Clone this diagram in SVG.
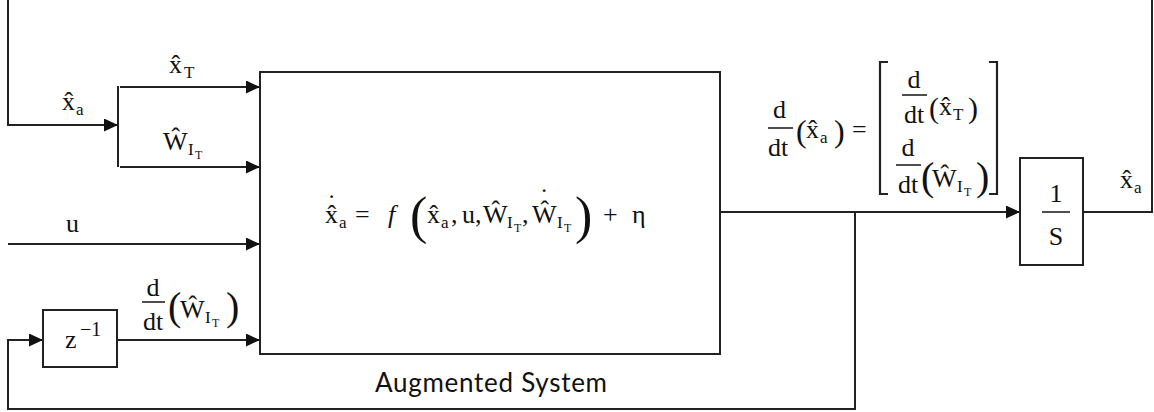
<svg xmlns="http://www.w3.org/2000/svg" width="1154" height="412" viewBox="0 0 1154 412">
<style>
.ln{fill:none;stroke:#222;stroke-width:2}
.box{fill:#fff;stroke:#222;stroke-width:2}
.m{font-family:"Liberation Serif","DejaVu Serif",serif;font-size:26px;fill:#111}
.s{font-size:17px}
.ss{font-size:12px}
.bar{stroke:#222;stroke-width:1.6}
.brk{fill:none;stroke:#222;stroke-width:2.2}
.lbl{font-family:Lato,"Open Sans",sans-serif;font-size:26px;fill:#111}
</style>
<defs>
<marker id="ah" markerUnits="userSpaceOnUse" markerWidth="15" markerHeight="13" refX="14" refY="6.5" orient="auto">
<path d="M0,0 L14,6.5 L0,13 z" fill="#111"/>
</marker>
</defs>
<g id="connectors">
<path class="ln" d="M8,0 V125 H118" marker-end="url(#ah)"/>
<path class="ln" d="M118,86 V167"/>
<path class="ln" d="M120,87 H260" marker-end="url(#ah)"/>
<path class="ln" d="M120,167 H260" marker-end="url(#ah)"/>
<path class="ln" d="M8,244 H260" marker-end="url(#ah)"/>
<path class="ln" d="M117,340 H260" marker-end="url(#ah)"/>
<path class="ln" d="M721,212 H1020" marker-end="url(#ah)"/>
<path class="ln" d="M855,212 V409 H8 V340 H43" marker-end="url(#ah)"/>
<path class="ln" d="M1083,212 H1152 V0"/>
<g id="connector-labels" class="m">
<text x="62" y="110">x̂<tspan class="s" x="76" y="115">a</tspan></text>
<text x="169" y="73">x̂<tspan class="s" x="184" y="78">T</tspan></text>
<text x="163" y="150">Ŵ<tspan class="s" x="188" y="155">I</tspan><tspan class="ss" x="195" y="159">T</tspan></text>
<text x="66" y="232">u</text>
<text x="153" y="296" text-anchor="middle">d</text>
<line class="bar" x1="142" y1="302" x2="165" y2="302"/>
<text x="153" y="330" text-anchor="middle">dt</text>
<text x="168" y="320" font-size="40">(</text>
<text x="180" y="318">Ŵ<tspan class="s" x="205" y="323">I</tspan><tspan class="ss" x="212" y="327">T</tspan></text>
<text x="226" y="320" font-size="40">)</text>
<text x="1120" y="188">x̂<tspan class="s" x="1134" y="193">a</tspan></text>
<text x="773" y="118">d</text>
<line class="bar" x1="768" y1="128" x2="793" y2="128"/>
<text x="768" y="156">dt</text>
<text x="796" y="142" font-size="32">(</text>
<text x="806" y="138">x̂<tspan class="s" x="820" y="143">a</tspan></text>
<text x="834" y="142" font-size="32">)</text>
<text x="852" y="138">=</text>
<path class="brk" d="M888,62 H880 V194 H888"/>
<path class="brk" d="M989,62 H997 V194 H989"/>
<text x="914" y="88" text-anchor="middle">d</text>
<line class="bar" x1="902" y1="95" x2="927" y2="95"/>
<text x="914" y="123" text-anchor="middle">dt</text>
<text x="929" y="118" font-size="30">(</text>
<text x="939" y="115">x̂<tspan class="s" x="953" y="120">T</tspan></text>
<text x="968" y="118" font-size="30">)</text>
<text x="908" y="156" text-anchor="middle">d</text>
<line class="bar" x1="896" y1="165" x2="921" y2="165"/>
<text x="908" y="193" text-anchor="middle">dt</text>
<text x="921" y="190" font-size="40">(</text>
<text x="932" y="187">Ŵ<tspan class="s" x="957" y="192">I</tspan><tspan class="ss" x="964" y="196">T</tspan></text>
<text x="976" y="190" font-size="40">)</text>
</g>
</g>
<g id="augmented-system">
<rect class="box" x="260" y="72" width="460" height="282"/>
<text class="m" x="325" y="223">x̂<tspan class="s" x="339" y="228">a</tspan><tspan x="355" y="223">=</tspan><tspan x="388" y="223" font-style="italic">f</tspan><tspan x="410" y="233" font-size="52">(</tspan><tspan x="427" y="223">x̂</tspan><tspan class="s" x="441" y="228">a</tspan><tspan x="451" y="223">,</tspan><tspan x="462" y="223">u,</tspan><tspan x="483" y="223">Ŵ</tspan><tspan class="s" x="507" y="228">I</tspan><tspan class="ss" x="514" y="232">T</tspan><tspan x="522" y="223">,</tspan><tspan x="532" y="223">Ŵ</tspan><tspan class="s" x="557" y="228">I</tspan><tspan class="ss" x="564" y="232">T</tspan><tspan x="575" y="233" font-size="52">)</tspan><tspan x="603" y="223">+</tspan><tspan x="632" y="223">η</tspan><tspan x="327.2" y="212">˙</tspan><tspan x="539.7" y="206">˙</tspan></text>
<text class="lbl" x="375" y="392" textLength="232">Augmented System</text>
</g>
<g id="delay">
<rect class="box" x="43" y="310" width="74" height="57"/>
<text class="m" x="65" y="348">z<tspan x="80" y="336" font-size="20">−1</tspan></text>
</g>
<g id="integrator">
<rect class="box" x="1020" y="158" width="63" height="107"/>
<text class="m" x="1056" y="202" text-anchor="middle">1</text>
<line class="bar" x1="1042" y1="212" x2="1070" y2="212"/>
<text class="m" x="1056" y="245" text-anchor="middle">S</text>
</g>
</svg>
